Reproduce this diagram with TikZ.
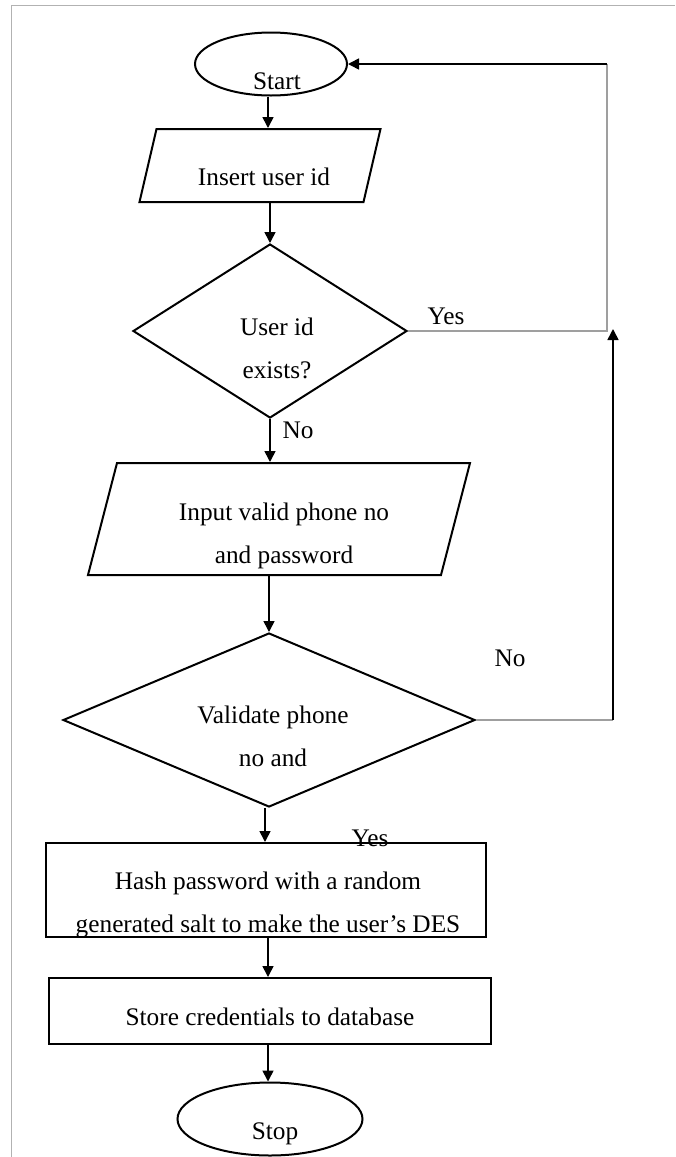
\documentclass[tikz,border=0pt]{standalone}
\usepackage{fontspec}
\setmainfont{Liberation Serif}
\usepackage{tikz}
\usetikzlibrary{shapes.geometric, arrows.meta, calc}

\begin{document}
\begin{tikzpicture}[x=1pt, y=-1pt,
    font=\fontsize{25.3}{43}\selectfont,
    terminal/.style={ellipse, draw, line width=2pt, inner sep=1pt},
    io/.style={rectangle, draw, line width=2pt, inner sep=1pt},
    decision/.style={diamond, draw, line width=2pt, inner sep=1pt},
    process/.style={rectangle, draw, line width=2pt, inner sep=1pt},
    arr/.style={-{Triangle[length=11pt,width=11pt]}, line width=1.6pt},
    link/.style={gray!75, line width=1.3pt},
    txt/.style={inner sep=0, align=center}]
  \useasboundingbox (0,0) rectangle (675,1157);
  % frame
  \draw [gray!60, line width=1pt] (11,1157)--(11,5)--(675,5);

  % shapes
  \node [terminal, minimum width=152pt, minimum height=63pt] (start) at (271,64) {};
  \node [txt] (starttxt) at (277,81) {Start};

  \node [io, xslant=0.233, minimum width=224pt, minimum height=73pt] (insert) at (260,165.5) {};
  \node [txt] (inserttxt) at (264,177) {Insert user id};

  \node [decision, minimum width=274pt, minimum height=174pt] (d1) at (270,331) {};
  \node [txt] (d1txt) at (277,348) {User id\\exists?};

  \node [io, xslant=0.259, minimum width=353pt, minimum height=112pt] (phone) at (279,519) {};
  \node [txt] (phonetxt) at (284,536) {Input valid phone no\\and password};

  \node [decision, minimum width=412pt, minimum height=174pt] (d2) at (269,720) {};
  \node [txt] (d2txt) at (273,736) {Validate phone\\no and};

  \node [process, minimum width=440pt, minimum height=94pt] (hash) at (266,890) {};
  \node [txt] (hashtxt) at (268,905) {Hash password with a random\\generated salt to make the user’s DES};

  \node [process, minimum width=442pt, minimum height=66pt] (store) at (270,1011) {};
  \node [txt] (storetxt) at (270,1017) {Store credentials to database};

  \node [terminal, minimum width=185pt, minimum height=73pt] (stop) at (270,1119) {};
  \node [txt] (stoptxt) at (275,1134) {Stop};

  % main flow
  \draw [arr] (start.south -| 268,0) -- (insert.north -| 268,0);
  \draw [arr] (insert.south -| d1.north) -- (d1.north);
  \draw [arr] (d1.south) -- (phone.north -| d1.south);
  \draw [arr] (phone.south -| d2.north) -- (d2.north);
  \draw [arr] (d2.south -| 265,0) -- (hash.north -| 265,0);
  \draw [arr] (hash.south -| 268,0) -- (store.north -| 268,0);
  \draw [arr] (store.south -| 268,0) -- (stop.north -| 268,0);

  % loops back
  \coordinate (c1) at (607,331);
  \coordinate (c2) at (607,64);
  \draw [link] (d1.east) -- (c1) -- (c2);
  \draw [arr] (c2) -- (start.east);

  \coordinate (c3) at (613,720);
  \coordinate (c4) at (613,329);
  \draw [link] (d2.east) -- (c3);
  \draw [arr] (c3) -- (c4);

  % labels
  \node [txt] (yes1) at (446,316) {Yes};
  \node [txt] (no1) at (298,430) {No};
  \node [txt] (no2) at (510,658) {No};
  \node [txt] (yes2) at (370,838) {Yes};
\end{tikzpicture}
\end{document}
